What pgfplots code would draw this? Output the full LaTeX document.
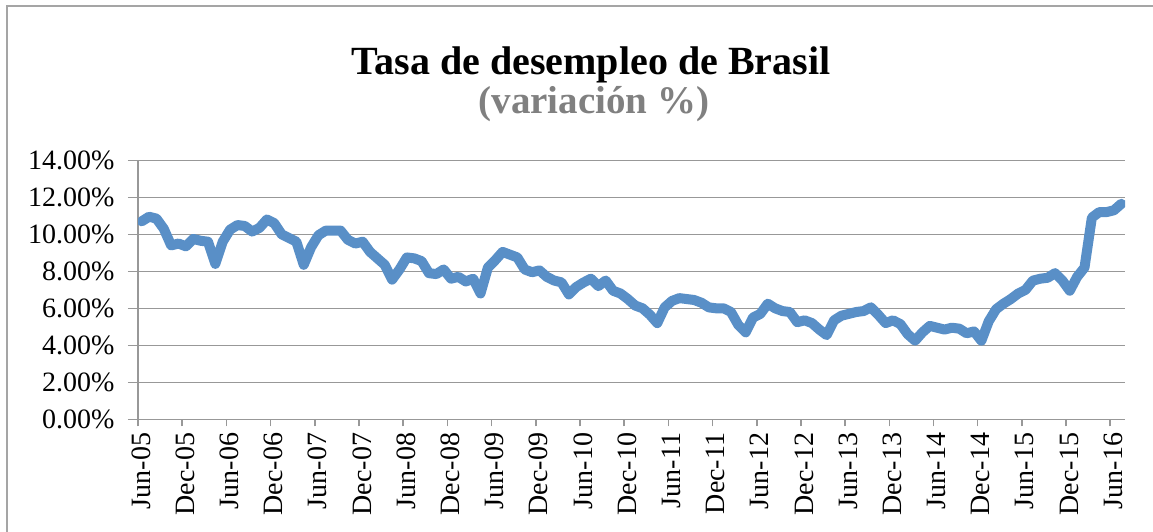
\documentclass[border=0pt]{standalone}
\usepackage{pgfplots}
\pgfplotsset{compat=1.18}
\usepackage{fontspec}
\setmainfont{Liberation Serif}
\definecolor{linecol}{RGB}{89,143,199}
\definecolor{gridcol}{RGB}{152,152,152}
\definecolor{framecol}{RGB}{165,165,165}
\definecolor{subcol}{RGB}{128,128,128}
\begin{document}
\begin{tikzpicture}
\path[use as bounding box] (0,0) rectangle (576.5bp,-266bp);
\draw[framecol, line width=1.1bp] (3.5bp,-300bp) -- (3.5bp,-3bp) -- (620bp,-3bp);
\node[anchor=base, font=\fontsize{20bp}{23bp}\selectfont\bfseries] at (295.5bp,-37bp) {Tasa de desempleo de Brasil};
\node[anchor=base, text=subcol, font=\fontsize{19.5bp}{22bp}\selectfont\bfseries] at (297bp,-56.5bp) {(variación \%)};
\begin{axis}[
  at={(69bp,-209.65bp)}, anchor=south west,
  scale only axis, width=493.5bp, height=129.5bp,
  xmin=0, xmax=134, ymin=0, ymax=14,
  axis lines*=left,
  axis line style={draw=gridcol, line width=0.8bp},
  ymajorgrids, major grid style={draw=gridcol, line width=0.8bp},
  tick align=outside,
  xtick={0,6,...,132},
  xticklabels={Jun-05,Dec-05,Jun-06,Dec-06,Jun-07,Dec-07,Jun-08,Dec-08,Jun-09,Dec-09,Jun-10,Dec-10,Jun-11,Dec-11,Jun-12,Dec-12,Jun-13,Dec-13,Jun-14,Dec-14,Jun-15,Dec-15,Jun-16},
  ytick={0,2,...,14},
  yticklabels={0.00\%,2.00\%,4.00\%,6.00\%,8.00\%,10.00\%,12.00\%,14.00\%},
  xtick style={draw=gridcol, line width=0.8bp, /pgfplots/major tick length=3.5bp},
  ytick style={draw=gridcol, line width=0.8bp, /pgfplots/major tick length=5bp},
  ticklabel style={font=\fontsize{14bp}{16bp}\selectfont},
  xticklabel style={rotate=90, anchor=east, xshift=1bp, yshift=-1.5bp},
  yticklabel style={anchor=east, xshift=-4bp},
  clip=true,
]
\addplot[linecol, line width=5bp, line join=round, line cap=round] table[x expr=\thisrowno{0}+0.5, y index=1] {
0 10.7
1 10.95
2 10.85
3 10.3
4 9.4
5 9.5
6 9.35
7 9.75
8 9.65
9 9.6
10 8.4
11 9.6
12 10.25
13 10.5
14 10.45
15 10.15
16 10.35
17 10.8
18 10.6
19 10.0
20 9.8
21 9.6
22 8.35
23 9.3
24 9.95
25 10.2
26 10.2
27 10.2
28 9.7
29 9.5
30 9.6
31 9.05
32 8.7
33 8.35
34 7.55
35 8.1
36 8.75
37 8.7
38 8.55
39 7.9
40 7.85
41 8.1
42 7.6
43 7.7
44 7.45
45 7.6
46 6.8
47 8.2
48 8.6
49 9.05
50 8.9
51 8.75
52 8.1
53 7.95
54 8.05
55 7.7
56 7.5
57 7.4
58 6.75
59 7.15
60 7.4
61 7.6
62 7.2
63 7.5
64 6.95
65 6.8
66 6.5
67 6.15
68 6.0
69 5.65
70 5.2
71 6.05
72 6.4
73 6.55
74 6.5
75 6.45
76 6.3
77 6.05
78 6.0
79 6.0
80 5.8
81 5.1
82 4.7
83 5.5
84 5.7
85 6.25
86 6.0
87 5.85
88 5.8
89 5.25
90 5.35
91 5.2
92 4.85
93 4.55
94 5.35
95 5.6
96 5.7
97 5.8
98 5.85
99 6.05
100 5.65
101 5.2
102 5.35
103 5.15
104 4.6
105 4.25
106 4.7
107 5.05
108 4.95
109 4.85
110 4.95
111 4.9
112 4.65
113 4.75
114 4.25
115 5.3
116 5.95
117 6.25
118 6.5
119 6.8
120 7.0
121 7.5
122 7.6
123 7.65
124 7.9
125 7.5
126 6.95
127 7.7
128 8.2
129 10.9
130 11.2
131 11.2
132 11.3
133 11.65
};
\end{axis}
\end{tikzpicture}
\end{document}
